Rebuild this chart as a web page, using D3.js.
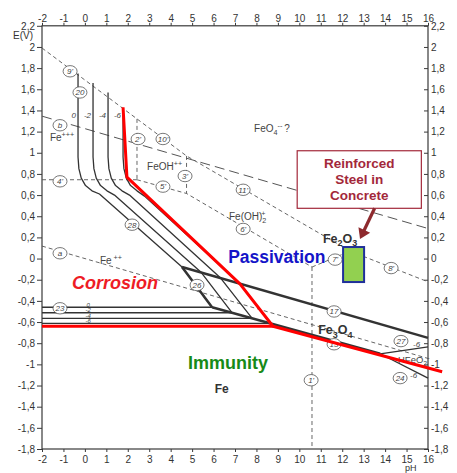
<!DOCTYPE html>
<html>
<head>
<meta charset="utf-8">
<script src="https://cdn.jsdelivr.net/npm/d3@7"></script>
<style>
  body { margin: 0; background: #fff; }
  svg { display: block; }
</style>
</head>
<body>
<svg id="chart" width="457" height="473"></svg>
<script>
// axis ticks
const phTicks = [-2, -1, 0, 1, 2, 3, 4, 5, 6, 7, 8, 9, 10, 11, 12, 13, 14, 15, 16];
const eTicks = [-1.8, -1.6, -1.4, -1.2, -1, -0.8, -0.6, -0.4, -0.2, 0, 0.2, 0.4, 0.6, 0.8, 1, 1.2, 1.4, 1.6, 1.8, 2, 2.2];

// log[Fe] levels of the corrosion curves
const concLabels = ["0", "-2", "-4", "-6"];

// lines 20 + 28 (Fe3+ / Fe2O3 then Fe2+ / Fe2O3), [pH, E], ending on line 17
const curve0 = [[-0.32, 1.75], [-0.32, 0.96], [-0.28, 0.85], [-0.17, 0.76], [0.03, 0.69], [0.33, 0.64], [0.68, 0.61], [4.53, -0.08]];
const curveM2 = [[0.38, 1.66], [0.38, 0.96], [0.42, 0.85], [0.53, 0.76], [0.73, 0.69], [1.03, 0.64], [1.38, 0.6], [5.43, -0.132]];
const curveM4 = [[1.08, 1.57], [1.08, 0.96], [1.12, 0.85], [1.23, 0.76], [1.43, 0.69], [1.73, 0.64], [2.08, 0.6], [6.33, -0.184]];
const curveM6 = [[1.78, 1.42], [1.78, 0.96], [1.82, 0.85], [1.93, 0.76], [2.13, 0.69], [2.43, 0.64], [2.78, 0.59], [7.23, -0.237]];
// line 26 ends on Fe/Fe3O4 (line 13); line 23 runs back left from there
const fe3o4Ends = [[5.93, -0.46], [6.86, -0.512], [7.8, -0.565], [8.65, -0.612]];

// solid-phase boundaries
const line17 = [[4.53, -0.08], [16, -0.75]];
const line13 = [[5.93, -0.46], [13.77, -0.9]];
const line27 = [[13.77, -0.9], [16, -0.835]];
const line24 = [[13.77, -0.9], [16, -1.13]];

// dashed lines
const lineA = [[-2, 0.118], [16, -0.944]];
const lineB = [[-2, 1.346], [16, 0.284]];
const line9to11 = [[-2, 1.99], [2.43, 1.32], [4.74, 0.97], [12.37, 0.07]];
const line8 = [[12.37, 0.07], [16, -0.22]];
const line7 = [[10.59, -0.08], [12.37, 0.07]];
const line4 = [[-2, 0.745], [2.43, 0.745]];
const line5to6 = [[2.43, 0.745], [4.74, 0.615], [10.59, -0.08]];
const line2 = [[2.43, 1.32], [2.43, 0.745]];
const line3 = [[4.74, 0.97], [4.74, 0.615]];
const line1 = [[10.59, -0.08], [10.59, -1.8]];

// red highlighted boundary (10^-6)
const redFlat = [[-2, -0.64], [8.77, -0.64]];
const redEdge = [[1.78, 1.43], [1.96, 0.77], [7.23, -0.24], [8.77, -0.64], [16.66, -1.07]];

// circled line numbers [text, pH, E]
const circleLabels = [
  ["9'", -0.69, 1.77], ["20", -0.23, 1.57], ["b", -1.16, 1.26], ["2'", 2.48, 1.13],
  ["10'", 3.64, 1.13], ["4'", -1.16, 0.73], ["3'", 4.67, 0.78], ["5'", 3.64, 0.68],
  ["28", 2.2, 0.32], ["11'", 7.38, 0.65], ["6'", 7.38, 0.28], ["a", -1.16, 0.05],
  ["26", 5.23, -0.25], ["23", -1.16, -0.47], ["7'", 11.67, -0.01], ["8'", 14.28, -0.09],
  ["17", 11.62, -0.5], ["13", 11.62, -0.81], ["1'", 10.55, -1.15], ["27", 14.74, -0.78],
  ["24", 14.7, -1.13]
];

const svg = d3.select("#chart");
const x = d3.scaleLinear().domain([-2, 16]).range([42, 428]);
const y = d3.scaleLinear().domain([-1.8, 2.2]).range([449, 25.8]);
const line = d3.line().x((d) => x(d[0])).y((d) => y(d[1]));
const scanFont = "'Liberation Sans', Arial, sans-serif";
const ink = "#3a3a3a";

function fmt(v) {
  return String(+v.toFixed(1)).replace(".", ",");
}

function styleAxis(g) {
  g.select(".domain").remove();
  g.selectAll(".tick line").attr("stroke", ink);
  g.selectAll(".tick text").attr("fill", "#333").attr("font-size", 10).attr("font-family", scanFont);
}

svg.append("g").attr("transform", `translate(${x(-2)},0)`)
  .call(d3.axisLeft(y).tickValues(eTicks).tickFormat(fmt).tickSize(5).tickPadding(2))
  .call(styleAxis);
svg.append("g").attr("transform", `translate(${x(16)},0)`)
  .call(d3.axisRight(y).tickValues(eTicks).tickFormat(fmt).tickSize(-4).tickPadding(3))
  .call(styleAxis);
svg.append("g").attr("transform", `translate(0,${y(2.2)})`)
  .call(d3.axisTop(x).tickValues(phTicks).tickFormat(fmt).tickSize(3).tickPadding(1))
  .call(styleAxis);
svg.append("g").attr("transform", `translate(0,${y(-1.8)})`)
  .call(d3.axisBottom(x).tickValues(phTicks).tickFormat(fmt).tickSize(3).tickPadding(4))
  .call(styleAxis);

svg.append("rect")
  .attr("x", x(-2)).attr("y", y(2.2))
  .attr("width", x(16) - x(-2)).attr("height", y(-1.8) - y(2.2))
  .attr("fill", "none").attr("stroke", ink).attr("stroke-width", 1.2);

svg.append("text").attr("x", x(-2) - 29).attr("y", y(2.2) + 13)
  .attr("font-family", scanFont).attr("font-size", 10).attr("fill", "#333").text("E(V)");
svg.append("text").attr("x", x(16) - 23).attr("y", y(-1.8) + 22)
  .attr("font-family", scanFont).attr("font-size", 9).attr("fill", "#333").text("pH");

// dashed equilibrium lines
svg.append("g").selectAll("path")
  .data([lineA, line9to11, line8, line7, line4, line5to6, line2, line3, line1])
  .join("path")
  .attr("d", line).attr("fill", "none")
  .attr("stroke", "#555").attr("stroke-width", 0.9).attr("stroke-dasharray", "4,3");
svg.append("path").datum(lineB).attr("d", line).attr("fill", "none")
  .attr("stroke", "#555").attr("stroke-width", 1).attr("stroke-dasharray", "10,5");

// corrosion curves for each concentration
const fe3Curves = [curve0, curveM2, curveM4, curveM6];
svg.append("g").selectAll("path")
  .data(fe3Curves.map((c, i) => c.concat([fe3o4Ends[i], [-2, fe3o4Ends[i][1]]])))
  .join("path")
  .attr("d", line).attr("fill", "none")
  .attr("stroke", "#333").attr("stroke-width", 1.3).attr("stroke-linejoin", "round");

svg.append("g").selectAll("path")
  .data([line17, [curve0[curve0.length - 1], fe3o4Ends[0]], line13])
  .join("path")
  .attr("d", line).attr("fill", "none")
  .attr("stroke", "#333").attr("stroke-width", 2.5).attr("stroke-linejoin", "round");
svg.append("g").selectAll("path")
  .data([line27, line24])
  .join("path")
  .attr("d", line).attr("fill", "none")
  .attr("stroke", "#333").attr("stroke-width", 1.3);

// concentration labels
svg.append("g").selectAll("text")
  .data(concLabels)
  .join("text")
  .attr("x", (d, i) => x(fe3Curves[i][0][0]) - 2)
  .attr("y", y(1.33))
  .attr("text-anchor", "end")
  .attr("font-family", scanFont).attr("font-size", 8).attr("font-style", "italic").attr("fill", "#444")
  .text((d) => d);
svg.append("g").selectAll("text")
  .data(concLabels)
  .join("text")
  .attr("x", x(0.15))
  .attr("y", (d, i) => y(fe3o4Ends[i][1]) - 0.5)
  .attr("text-anchor", "middle")
  .attr("font-family", scanFont).attr("font-size", 6).attr("font-style", "italic").attr("fill", "#444")
  .text((d) => d);

// circled numbers
const cg = svg.append("g").selectAll("g")
  .data(circleLabels)
  .join("g")
  .attr("transform", (d) => `translate(${x(d[1])},${y(d[2])})`);
cg.append("ellipse").attr("rx", 7).attr("ry", 5.7)
  .attr("fill", "#fff").attr("stroke", "#555").attr("stroke-width", 0.8);
cg.append("text").attr("text-anchor", "middle").attr("dy", "0.35em")
  .attr("font-family", scanFont).attr("font-size", 8).attr("font-style", "italic").attr("fill", "#444")
  .text((d) => d[0]);

// species names; parts: [text, "sub" | "sup" | "", dx]
function species(ph, e, parts, size, opts = {}) {
  const t = svg.append("text").attr("x", x(ph)).attr("y", y(e))
    .attr("font-family", scanFont).attr("font-size", size)
    .attr("fill", opts.fill || "#444").attr("font-weight", opts.weight || "normal");
  let shift = 0;
  parts.forEach(([s, kind, dx]) => {
    const target = kind === "sub" ? size * 0.3 : kind === "sup" ? -size * 0.4 : 0;
    const ts = t.append("tspan").attr("dy", target - shift).text(s);
    if (dx) ts.attr("dx", dx);
    if (kind) ts.attr("font-size", size * 0.72);
    shift = target;
  });
  return t;
}

species(-1.63, 1.11, [["Fe", ""], ["+++", "sup"]], 10);
species(2.9, 0.84, [["FeOH", ""], ["++", "sup"]], 10);
species(7.89, 1.2, [["FeO", ""], ["4", "sub"], ["--", "sup", 0], ["?", "", 2]], 10);
species(6.72, 0.365, [["Fe(OH)", ""], ["2", "sub"], ["+", "sup", -5]], 10);
species(0.7, -0.051, [["Fe", ""], ["++", "sup", 2]], 10);
species(14.6, -0.99, [["HFeO", ""], ["2", "sub"], ["-", "sup"]], 9.5);
species(15.3, -0.836, [["-6", ""]], 8).attr("font-style", "italic");
species(15.16, -1.13, [["-6", ""]], 8).attr("font-style", "italic");

// red highlighted 10^-6 boundary
svg.append("g").selectAll("path")
  .data([redFlat, redEdge])
  .join("path")
  .attr("d", line).attr("fill", "none")
  .attr("stroke", "#ff0000").attr("stroke-width", 3).attr("stroke-linejoin", "round");

// region annotations
svg.append("text").attr("x", x(-0.6)).attr("y", y(-0.287))
  .attr("font-family", "'Liberation Sans', Arial, sans-serif").attr("font-size", 18)
  .attr("font-weight", "bold").attr("font-style", "italic").attr("fill", "#ee1c25").text("Corrosion");
svg.append("text").attr("x", x(6.68)).attr("y", y(-0.042))
  .attr("font-family", "'Liberation Sans', Arial, sans-serif").attr("font-size", 17.5)
  .attr("font-weight", "bold").attr("fill", "#1414c8").text("Passivation");
svg.append("text").attr("x", x(4.81)).attr("y", y(-1.044))
  .attr("font-family", "'Liberation Sans', Arial, sans-serif").attr("font-size", 18)
  .attr("font-weight", "bold").attr("fill", "#178a17").text("Immunity");
species(6.05, -1.27, [["Fe", ""]], 12, { weight: "bold", fill: "#333" });
species(11.1, 0.15, [["Fe", ""], ["2", "sub"], ["O", ""], ["3", "sub"]], 12.5, { weight: "bold", fill: "#333" });
species(10.88, -0.713, [["Fe", ""], ["3", "sub"], ["O", ""], ["4", "sub"]], 12.5, { weight: "bold", fill: "#333" });

// steel-in-concrete marker
svg.append("rect")
  .attr("x", x(12.04)).attr("y", y(0.109))
  .attr("width", x(13.02) - x(12.04)).attr("height", y(-0.222) - y(0.109))
  .attr("fill", "#92d050").attr("stroke", "#1f2f9a").attr("stroke-width", 2);

const boxL = 9.9, boxR = 15.69, boxT = 1.019, boxB = 0.475;
svg.append("rect")
  .attr("x", x(boxL)).attr("y", y(boxT))
  .attr("width", x(boxR) - x(boxL)).attr("height", y(boxB) - y(boxT))
  .attr("fill", "#fff").attr("stroke", "#a3283a").attr("stroke-width", 1.2);
svg.append("text")
  .attr("x", x((boxL + boxR) / 2)).attr("y", y(boxT))
  .attr("text-anchor", "middle")
  .attr("font-family", "'Liberation Sans', Arial, sans-serif").attr("font-size", 13.5)
  .attr("font-weight", "bold").attr("fill", "#a3283a")
  .selectAll("tspan")
  .data(["Reinforced", "Steel in", "Concrete"])
  .join("tspan")
  .attr("x", x((boxL + boxR) / 2))
  .attr("dy", (d, i) => (i === 0 ? 17 : 16))
  .text((d) => d);

// arrow from the callout to the marker
const arrowFrom = [13.51, 0.475], arrowTo = [12.83, 0.185];
const ax0 = x(arrowFrom[0]), ay0 = y(arrowFrom[1]), ax1 = x(arrowTo[0]), ay1 = y(arrowTo[1]);
const len = Math.hypot(ax1 - ax0, ay1 - ay0);
const ux = (ax1 - ax0) / len, uy = (ay1 - ay0) / len;
const headL = 10, headW = 6.5;
svg.append("line")
  .attr("x1", ax0).attr("y1", ay0)
  .attr("x2", ax1 - ux * headL * 0.8).attr("y2", ay1 - uy * headL * 0.8)
  .attr("stroke", "#8e2a2e").attr("stroke-width", 3.2);
svg.append("path")
  .attr("d", `M${ax1},${ay1}L${ax1 - ux * headL - uy * headW},${ay1 - uy * headL + ux * headW}` +
    `L${ax1 - ux * headL + uy * headW},${ay1 - uy * headL - ux * headW}Z`)
  .attr("fill", "#8e2a2e");
</script>
</body>
</html>
